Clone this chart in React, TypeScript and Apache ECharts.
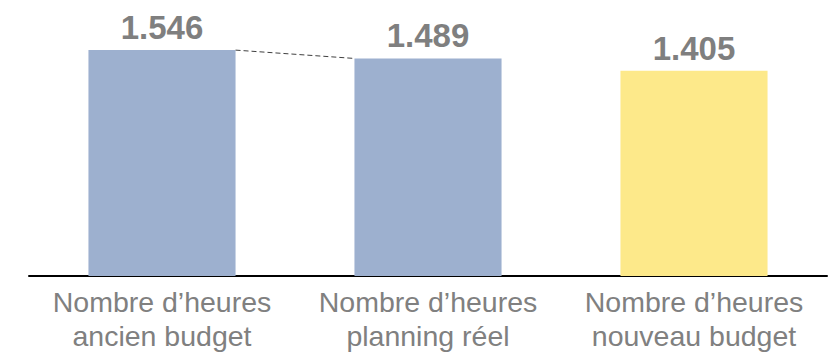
import React, { useEffect, useRef } from "react";
import * as echarts from "echarts";

const categories = ["Nombre d’heures\nancien budget", "Nombre d’heures\nplanning réel", "Nombre d’heures\nnouveau budget"];
const hours = [1546, 1489, 1405];
const barColors = ["#9DB0CF", "#9DB0CF", "#FDE98A"];
const connector = [[0, 1546, 1, 1489]];

const BAR_RATIO = 0.553;

function fmt(v: number): string {
  return String(v).replace(/\B(?=(\d{3})+(?!\d))/g, ".");
}

export default function App() {
  const ref = useRef<HTMLDivElement>(null);
  useEffect(() => {
    document.body.style.margin = "0";
    if (!ref.current) return;
    const chart = echarts.init(ref.current, null, { renderer: "svg" });
    chart.setOption({
      animation: false,
      grid: { left: 29, right: 2, top: 13, bottom: 85, containLabel: false },
      xAxis: {
        type: "category",
        data: categories,
        axisLine: { lineStyle: { color: "#000", width: 2 } },
        axisTick: { show: false },
        axisLabel: {
          interval: 0,
          hideOverlap: false,
          color: "#808080",
          fontSize: 28.5,
          lineHeight: 34,
          margin: 9,
          fontFamily: "Liberation Sans, Arial, sans-serif",
        },
      },
      yAxis: {
        type: "value",
        min: 0,
        max: 1800,
        show: false,
        splitLine: { show: false },
      },
      series: [
        {
          type: "bar",
          barWidth: (BAR_RATIO * 100).toFixed(1) + "%",
          data: hours.map((v, i) => ({ value: v, itemStyle: { color: barColors[i] } })),
          label: {
            show: true,
            position: "top",
            distance: 6,
            formatter: (p: any) => fmt(p.value),
            color: "#7F7F7F",
            fontSize: 33,
            fontWeight: "bold",
            fontFamily: "Liberation Sans, Arial, sans-serif",
          },
        },
        {
          type: "custom",
          data: connector,
          z: 5,
          renderItem: (params: any, api: any) => {
            const p0 = api.coord([api.value(0), api.value(1)]);
            const p1 = api.coord([api.value(2), api.value(3)]);
            const bw = api.size([1, 0])[0];
            const half = (bw * BAR_RATIO) / 2;
            return {
              type: "line",
              shape: { x1: p0[0] + half, y1: p0[1], x2: p1[0] - half, y2: p1[1] },
              style: { stroke: "#404040", lineWidth: 1, lineDash: [5, 3] },
            };
          },
        },
      ],
    });
    return () => chart.dispose();
  }, []);
  return <div ref={ref} style={{ width: 829, height: 361 }} />;
}
